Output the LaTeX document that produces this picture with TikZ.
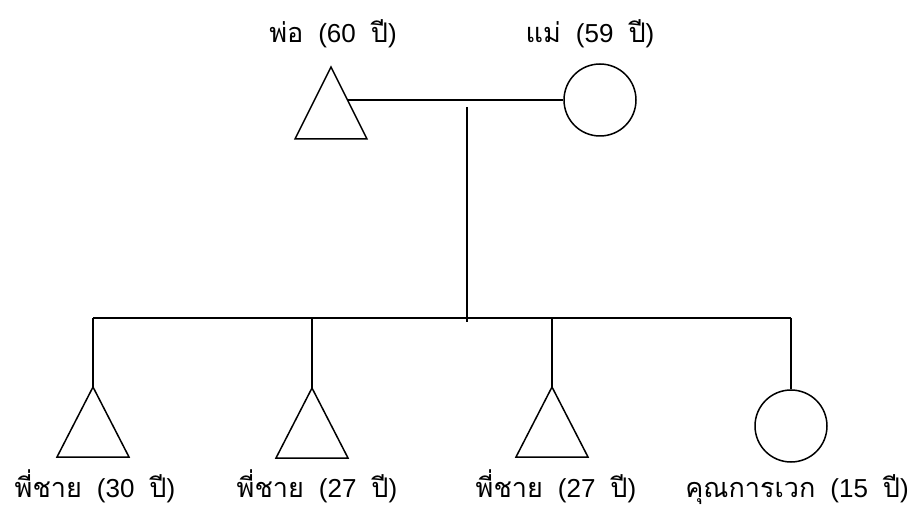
\documentclass[tikz,border=0pt]{standalone}
\usepackage{fontspec}
\setmainfont{Liberation Sans}
\newfontfamily\thaifont[Script=Thai,Scale=1.04]{Loma}
\newcommand\tw[1]{{\thaifont #1}}
\newcommand\gp{\hspace{15pt}}
\begin{document}
\begin{tikzpicture}[x=1pt,y=-1pt,
  ln/.style={line width=1.5pt,line join=miter},
  lbl/.style={anchor=base,inner sep=0pt,font=\fontsize{26}{30}\selectfont},
  female/.style={draw,circle,line width=1.5pt,minimum size=72pt,inner sep=0pt}]
\useasboundingbox (0,0) rectangle (913,510);
% parents
\coordinate (fa) at (331,67);
\draw[ln] (fa) -- ++(36,72) -- ++(-72,0) -- cycle;
\coordinate (fr) at (347.5,100);
\node[female] (mo) at (600,100) {};
\draw[ln] (fr) -- (mo.west);
\coordinate (ptop) at (467,107);
\coordinate (pbot) at (467,322);
\draw[ln] (ptop) -- (pbot);
% sibling line
\coordinate (s1) at (93,318);
\coordinate (s2) at (312,318);
\coordinate (s3) at (552,318);
\coordinate (s4) at (791,318);
\draw[ln] (s1) -- (s4);
% children
\coordinate (c1) at (93,387);
\coordinate (c2) at (312,388);
\coordinate (c3) at (552,387);
\node[female] (c4) at (791,426) {};
\draw[ln] (c1) -- ++(36,70) -- ++(-72,0) -- cycle;
\draw[ln] (c2) -- ++(36,70) -- ++(-72,0) -- cycle;
\draw[ln] (c3) -- ++(36,70) -- ++(-72,0) -- cycle;
\draw[ln] (s1) -- (c1);
\draw[ln] (s2) -- (c2);
\draw[ln] (s3) -- (c3);
\draw[ln] (s4) -- (c4.north);
% labels
\node[lbl] (lfa) at (333,43) {\tw{พ่อ}\gp(60\gp\tw{ปี})};
\node[lbl] (lmo) at (590,43) {\tw{แม่}\gp(59\gp\tw{ปี})};
\node[lbl] (l1) at (95,497) {\tw{พี่ชาย}\gp(30\gp\tw{ปี})};
\node[lbl] (l2) at (317,497) {\tw{พี่ชาย}\gp(27\gp\tw{ปี})};
\node[lbl] (l3) at (556,497) {\tw{พี่ชาย}\gp(27\gp\tw{ปี})};
\node[lbl,anchor=base east] (l4) at (909,497) {\tw{คุณการเวก}\gp(15\gp\tw{ปี})};
\end{tikzpicture}
\end{document}
